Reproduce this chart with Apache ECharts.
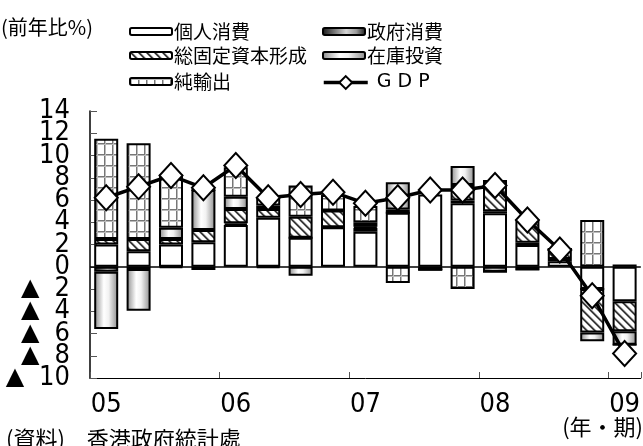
<!DOCTYPE html>
<html><head><meta charset="utf-8">
<script src="https://cdn.jsdelivr.net/npm/echarts@6/dist/echarts.min.js"></script>
<style>html,body{margin:0;padding:0;background:#fff}#c{width:643px;height:446px}</style>
</head><body><div id="c"></div>
<script>
// ---- data ----
const quarters = ['05Q1','05Q2','05Q3','05Q4','06Q1','06Q2','06Q3','06Q4','07Q1','07Q2','07Q3','07Q4','08Q1','08Q2','08Q3','08Q4','09Q1'];
const xTickLabels = ['05','','','','06','','','','07','','','','08','','','','09'];
const yTickValues = [-10,-8,-6,-4,-2,0,2,4,6,8,10,12,14];
const seriesNames = ['個人消費','政府消費','総固定資本形成','在庫投資','純輸出','GDP'];
const privateCons = [2.0, 1.4, 2.0, 2.2, 3.75, 4.4, 2.6, 3.55, 3.15, 4.85, 6.5, 5.7, 4.8, 1.95, 0.5, -2.0, -3.1];
const govCons     = [-0.45, -0.2, -0.1, -0.3, 0.15, -0.1, 0, 0, 0.35, 0, -0.25, 0.25, 0.2, 0.2, 0.2, 0, 0.2];
const fixedInv    = [0.5, 1.1, 0.5, 1.1, 1.3, 0.8, 1.9, 1.5, 0.1, 0.3, 0, 1.4, 2.8, 2.1, 0.9, -3.9, -2.7];
const inventory   = [-5.15, -3.75, 1.0, 3.6, 1.1, 0.3, -0.8, 0, 0.35, 2.45, 0, 1.7, -0.45, -0.25, 0, -0.8, -1.2];
const netExports  = [9.0, 8.6, 4.8, 0, 2.65, 0.7, 2.8, 1.4, 1.5, -1.45, 0, -2.0, 0, 0, 0, 4.2, 0];
const gdp         = [6.2, 7.2, 8.2, 7.1, 9.1, 6.2, 6.5, 6.7, 5.7, 6.2, 6.9, 6.9, 7.3, 4.2, 1.5, -2.6, -7.8];

// ---- styles ----
const NUMFONT = '"Liberation Sans Narrow","DejaVu Sans Condensed","Arial Narrow",sans-serif';
const CJK = '"Noto Sans CJK JP","Noto Sans CJK SC",sans-serif';
const GRID_LEFT = 90;

function makeHatch(){
  const c = document.createElement('canvas'); c.width = 8; c.height = 8;
  const g = c.getContext('2d');
  const img = g.createImageData(8,8);
  for (let y=0;y<8;y++) for (let x=0;x<8;x++){
    const d = (((x - y) % 8) + 8) % 8;
    let v = 255;
    if (d===0) v = 40; else if (d===1) v = 90; else if (d===7) v = 150; else if (d===2) v=200;
    const i=(y*8+x)*4; img.data[i]=v; img.data[i+1]=v; img.data[i+2]=v; img.data[i+3]=255;
  }
  g.putImageData(img,0,0);
  return c;
}
function makeGrid(){
  const c = document.createElement('canvas'); c.width = 8; c.height = 11;
  const g = c.getContext('2d');
  g.fillStyle = '#fff'; g.fillRect(0,0,8,11);
  g.fillStyle = '#777'; g.fillRect(0,0,1,11); g.fillRect(0,0,8,1);
  g.fillStyle = '#bbb'; g.fillRect(1,0,1,11); g.fillRect(0,1,8,1);
  return c;
}
const hatchFill = {image: makeHatch(), repeat: 'repeat'};
const gridFill = {image: makeGrid(), repeat: 'repeat'};
const govFill = new echarts.graphic.LinearGradient(0,0,1,0,[
  {offset:0,color:'#151515'},{offset:0.55,color:'#d4d4d4'},{offset:0.78,color:'#9a9a9a'},{offset:1,color:'#151515'}]);
const invFill = new echarts.graphic.LinearGradient(0,0,1,0,[
  {offset:0,color:'#8a8a8a'},{offset:0.4,color:'#ffffff'},{offset:0.6,color:'#f2f2f2'},{offset:1,color:'#8a8a8a'}]);

const barFills = ['#ffffff', govFill, hatchFill, invFill, gridFill];
const barData = [privateCons, govCons, fixedInv, inventory, netExports];

const series = barData.map((d,k)=>({
  name: seriesNames[k], type:'bar', stack:'c', barWidth:24, data:d,
  itemStyle:{color:barFills[k], borderColor:'#000', borderWidth:2},
  emphasis:{disabled:true}, animation:false
}));
series[0].markLine = {silent:true, symbol:['none','none'], label:{show:false},
  lineStyle:{color:'#000', width:1.5, type:'solid'}, data:[{yAxis:0}]};
series.push({
  name: seriesNames[5], type:'line', data:gdp, z:10,
  symbol:'diamond', symbolSize:[23,25],
  lineStyle:{color:'#000', width:3.5},
  itemStyle:{color:'#fff', borderColor:'#000', borderWidth:2},
  animation:false
});

function legendAt(name, left, top, extra){
  return Object.assign({
    data:[name], left:left, top:top, orient:'horizontal', selectedMode:false, padding:0,
    itemWidth:42, itemHeight:7, itemGap:0,
    itemStyle:{borderColor:'#000', borderWidth:2},
    textStyle:{fontFamily:CJK, fontSize:19, color:'#000', padding:[0,0,0,-3]}
  }, extra||{});
}

const titleStyle = (fs)=>({fontFamily:CJK, fontSize:fs, fontWeight:'normal', color:'#000'});

const option = {
  animation:false,
  backgroundColor:'#fff',
  grid:{left:GRID_LEFT, right:0, top:111, bottom:68, containLabel:false},
  title:[
    {text:'(前年比%)', left:1, top:17, padding:0, textStyle:titleStyle(20)},
    {text:'(年・期)', right:0, top:416, padding:0, textStyle:titleStyle(22)},
    {text:'(資料)\u3000香港政府統計處', left:6, top:428, padding:0, textStyle:titleStyle(22)}
  ],
  legend:[
    legendAt(seriesNames[0], 129, 22),
    legendAt(seriesNames[2], 129, 46),
    legendAt(seriesNames[4], 129, 72),
    legendAt(seriesNames[1], 322, 22),
    legendAt(seriesNames[3], 322, 46),
    legendAt(seriesNames[5], 322, 73, {itemHeight:16, itemWidth:44, itemStyle:{borderColor:'#000', borderWidth:2, color:'#fff'}, lineStyle:{width:3.5, color:'#000'}, textStyle:{fontFamily:'"DejaVu Sans",sans-serif', fontSize:19, color:'#000', padding:[0,0,0,4]}, formatter:()=> 'G D P'})
  ],
  xAxis:{
    type:'category', data:quarters, boundaryGap:true,
    axisLine:{onZero:false, lineStyle:{color:'#000', width:1}},
    axisTick:{show:true, inside:true, length:6, interval:(i)=> i%4===0, lineStyle:{color:'#555'}},
    axisLabel:{interval:0, margin:13, formatter:(v,i)=> xTickLabels[i], fontFamily:NUMFONT, fontSize:27, color:'#000'},
    splitLine:{show:false}
  },
  yAxis:{
    type:'value', min:-10, max:14, interval:2,
    axisLine:{show:true, lineStyle:{color:'#000', width:1.5}},
    axisTick:{show:true, inside:true, length:7, lineStyle:{color:'#555'}},
    splitLine:{show:false},
    axisLabel:{show:false}
  },
  series:series
};
const chart = echarts.init(document.getElementById('c'), null, {renderer:'canvas'});
chart.setOption(option);

// y tick labels placed through the axis scale (avoids automatic overlap hiding)
const labelRight = GRID_LEFT - 20;
const yLabelGraphics = yTickValues.map(v => ({
  type:'text', silent:true,
  x: labelRight, y: chart.convertToPixel({yAxisIndex:0}, v),
  style:{
    text: v < 0 ? '{t|▲}{n|' + (-v) + '}' : '{n|' + v + '}',
    align:'right', verticalAlign:'middle',
    rich:{
      t:{fontFamily:'"DejaVu Sans",sans-serif', fontSize:24, fill:'#000', padding:[0,15,0,0]},
      n:{fontFamily:NUMFONT, fontSize:27, fill:'#000'}
    }
  }
}));
chart.setOption({graphic: yLabelGraphics});
</script>
</body></html>
